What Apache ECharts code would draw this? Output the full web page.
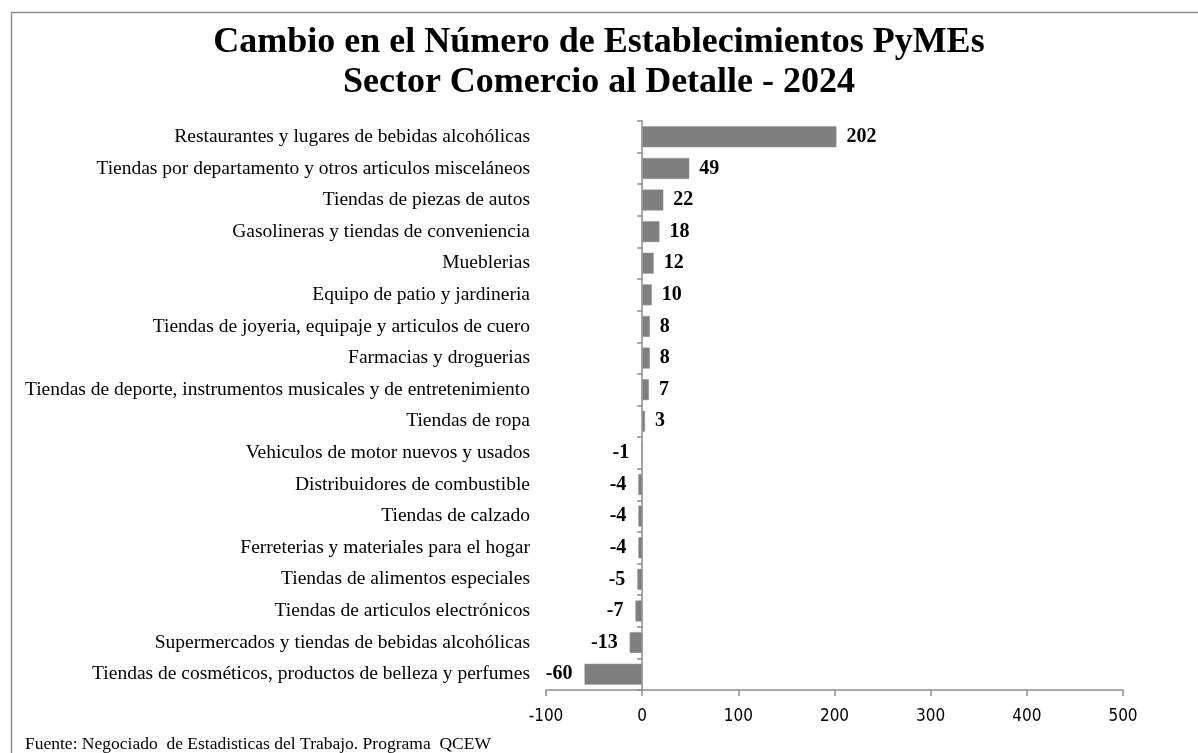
<!DOCTYPE html>
<html>
<head>
<meta charset="utf-8">
<script src="https://cdn.jsdelivr.net/npm/echarts@6/dist/echarts.min.js"></script>
<style>
  html, body { margin: 0; padding: 0; background: #fff; }
  #chart { width: 1198px; height: 753px; }
</style>
</head>
<body>
<div id="chart"></div>
<script>
  const categories = [
    'Restaurantes y lugares de bebidas alcohólicas',
    'Tiendas por departamento y otros articulos misceláneos',
    'Tiendas de piezas de autos',
    'Gasolineras y tiendas de conveniencia',
    'Mueblerias',
    'Equipo de patio y jardineria',
    'Tiendas de joyeria, equipaje y articulos de cuero',
    'Farmacias y droguerias',
    'Tiendas de deporte, instrumentos musicales y de entretenimiento',
    'Tiendas de ropa',
    'Vehiculos de motor nuevos y usados',
    'Distribuidores de combustible',
    'Tiendas de calzado',
    'Ferreterias y materiales para el hogar',
    'Tiendas de alimentos especiales',
    'Tiendas de articulos electrónicos',
    'Supermercados y tiendas de bebidas alcohólicas',
    'Tiendas de cosméticos, productos de belleza y perfumes',
  ];
  const changes = [202, 49, 22, 18, 12, 10, 8, 8, 7, 3, -1, -4, -4, -4, -5, -7, -13, -60];
  const xTicks = { min: -100, max: 500, interval: 100 };

  const SERIF = "'Liberation Serif', 'Times New Roman', serif";
  const AXIS_GRAY = '#8c8c8c';

  const chart = echarts.init(document.getElementById('chart'), null, { renderer: 'canvas' });

  chart.setOption({
    backgroundColor: '#fff',
    animation: false,
    title: {
      text: 'Cambio en el Número de Establecimientos PyMEs\nSector Comercio al Detalle - 2024',
      left: 'center',
      top: 18,
      textStyle: { fontFamily: SERIF, fontWeight: 'bold', fontSize: 36, lineHeight: 40, color: '#000' },
    },
    graphic: [
      {
        type: 'rect',
        shape: { x: 11.5, y: 12.5, width: 1300, height: 900 },
        style: { fill: 'none', stroke: AXIS_GRAY, lineWidth: 1.5 },
        silent: true,
      },
      {
        type: 'text',
        left: 25,
        top: 735,
        style: { text: 'Fuente: Negociado  de Estadisticas del Trabajo. Programa  QCEW', font: '17.5px ' + SERIF, fill: '#000' },
      },
    ],
    grid: { left: 546, right: 75, top: 121, bottom: 63 },
    xAxis: {
      type: 'value',
      min: xTicks.min, max: xTicks.max, interval: xTicks.interval,
      splitLine: { show: false },
      axisLine: { show: true, onZero: false, lineStyle: { color: AXIS_GRAY, width: 1.5 } },
      axisTick: { show: true, length: 6, lineStyle: { color: AXIS_GRAY, width: 1.5 } },
      axisLabel: { color: '#000', fontSize: 17, fontFamily: "'DejaVu Sans Condensed', 'DejaVu Sans', sans-serif", margin: 18 },
    },
    yAxis: [
      {
        type: 'category',
        data: categories,
        inverse: true,
        axisLine: { show: false, onZero: false },
        axisTick: { show: false },
        axisLabel: { color: '#000', fontSize: 19.5, fontFamily: SERIF, margin: 16 },
      },
      {
        type: 'category',
        data: categories,
        inverse: true,
        position: 'left',
        axisLine: { show: true, onZero: true, lineStyle: { color: AXIS_GRAY, width: 1.5 } },
        axisTick: { show: true, length: 5, lineStyle: { color: AXIS_GRAY, width: 1.5 } },
        axisLabel: { show: false },
      },
    ],
    series: [{
      type: 'bar',
      yAxisIndex: 0,
      barWidth: 21,
      data: changes.map((v) => ({
        value: v,
        label: { position: v < 0 ? 'left' : 'right', distance: v < 0 ? 12 : 10 },
      })),
      itemStyle: { color: '#7f7f7f', borderColor: '#9a9a9a', borderWidth: 0.5 },
      label: {
        show: true,
        color: '#000',
        fontFamily: SERIF,
        fontWeight: 'bold',
        fontSize: 20,
      },
      z: 1,
    }],
  });
</script>
</body>
</html>
